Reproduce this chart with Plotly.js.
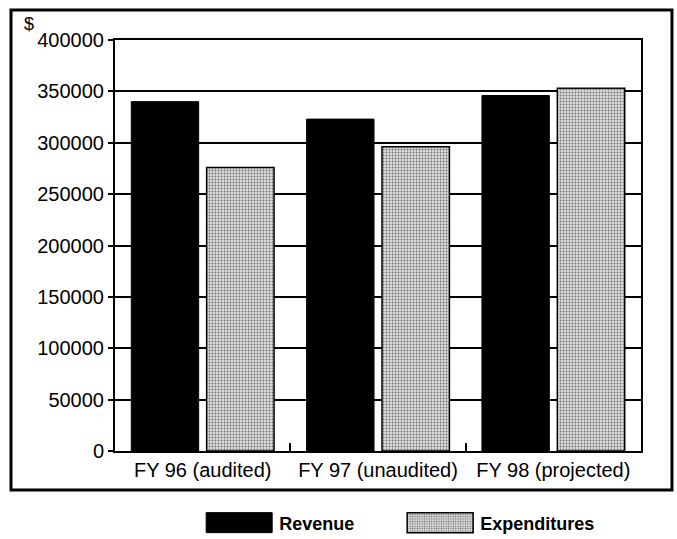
<!DOCTYPE html>
<html>
<head>
<meta charset="utf-8">
<script src="https://cdn.plot.ly/plotly-3.0.1.min.js"></script>
<style>
  html, body { margin: 0; padding: 0; background: #fff; }
  #chart { width: 677px; height: 539px; }
</style>
</head>
<body>
<div id="chart"></div>
<script>
const categories = ['FY 96 (audited)', 'FY 97 (unaudited)', 'FY 98 (projected)'];
const revenue = [340000, 323000, 346000];
const expenditures = [276000, 296000, 353000];
const seriesNames = ['Revenue', 'Expenditures'];
const yTickVals = [0, 50000, 100000, 150000, 200000, 250000, 300000, 350000, 400000];
const yTickText = ['0', '50000', '100000', '150000', '200000', '250000', '300000', '350000', '400000'];
const currencyLabel = '$';

const FONT = "'Liberation Sans', Arial, sans-serif";

const traces = [
  {
    type: 'bar',
    name: seriesNames[0],
    x: categories,
    y: revenue,
    marker: { color: '#000000', line: { color: '#000000', width: 1 } },
    hoverinfo: 'skip'
  },
  {
    type: 'bar',
    name: seriesNames[1],
    x: categories,
    y: expenditures,
    marker: {
      color: '#d4d4d4',
      line: { color: '#000000', width: 1.5 },
      pattern: { shape: '.', fgcolor: '#707070', bgcolor: '#dcdcdc', size: 3, solidity: 0.3 }
    },
    hoverinfo: 'skip'
  }
];

const layout = {
  width: 677,
  height: 539,
  margin: { l: 115, r: 36, t: 40, b: 88, autoexpand: false },
  paper_bgcolor: '#ffffff',
  plot_bgcolor: '#ffffff',
  font: { family: FONT, size: 20, color: '#000000' },
  barmode: 'group',
  bargap: 0.14,
  bargroupgap: 0.106,
  showlegend: true,
  legend: {
    orientation: 'h',
    x: 0.16, xanchor: 'left',
    y: -0.175, yanchor: 'middle',
    font: { family: FONT, size: 18, color: '#000', weight: 'bold' },
    itemwidth: 70,
    entrywidth: 116,
    entrywidthmode: 'pixels',
    bgcolor: 'rgba(0,0,0,0)'
  },
  xaxis: {
    type: 'category',
    showline: true, linecolor: '#000', linewidth: 2, mirror: true,
    ticks: 'inside', tickson: 'boundaries', ticklen: 8, tickwidth: 2, tickcolor: '#000',
    showgrid: false,
    tickangle: 0,
    tickfont: { family: FONT, size: 20, color: '#000' },
    fixedrange: true
  },
  yaxis: {
    range: [0, 400000],
    tickmode: 'array', tickvals: yTickVals, ticktext: yTickText,
    showline: true, linecolor: '#000', linewidth: 2, mirror: true,
    ticks: 'outside', ticklen: 5, tickwidth: 2, tickcolor: '#000',
    showgrid: true, gridcolor: '#000', gridwidth: 2,
    zeroline: false,
    tickfont: { family: FONT, size: 20, color: '#000' },
    fixedrange: true
  },
  shapes: [
    {
      type: 'rect', xref: 'paper', yref: 'paper',
      x0: -0.1977, x1: 1.0589, y0: -0.095, y1: 1.073,
      line: { color: '#000', width: 3 }, fillcolor: 'rgba(0,0,0,0)', layer: 'below'
    }
  ],
  annotations: [
    {
      text: currencyLabel, xref: 'paper', yref: 'paper',
      x: -0.163, y: 1.04, xanchor: 'center', yanchor: 'middle',
      showarrow: false, font: { family: FONT, size: 18, color: '#000' }
    }
  ]
};

Plotly.newPlot('chart', traces, layout, { staticPlot: true, displayModeBar: false }).then(function (gd) {
  // widen legend swatches to match the original wide boxes
  gd.querySelectorAll('.legend .traces .legendpoints path').forEach(function (p) {
    p.setAttribute('d', 'M-33,-10H33V10H-33Z');
  });
});
</script>
</body>
</html>
